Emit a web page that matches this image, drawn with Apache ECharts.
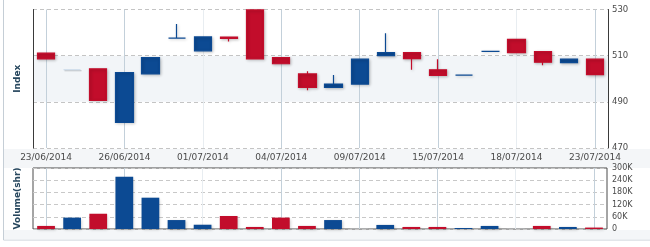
<!DOCTYPE html>
<html><head><meta charset="utf-8">
<script src="https://cdn.jsdelivr.net/npm/echarts@6/dist/echarts.min.js"></script>
<style>html,body{margin:0;padding:0;background:#fff}#c{width:650px;height:247px}</style>
</head><body><div id="c"></div>
<script>
const dates = ['23/06/2014','24/06/2014','25/06/2014','26/06/2014','27/06/2014','30/06/2014','01/07/2014','02/07/2014','03/07/2014','04/07/2014','07/07/2014','08/07/2014','09/07/2014','10/07/2014','14/07/2014','15/07/2014','16/07/2014','17/07/2014','18/07/2014','21/07/2014','22/07/2014','23/07/2014'];
const opens  = [511.1,503.9,504.3,481.1,502.1,517.6,512.1,518.0,529.8,509.2,502.1,496.2,497.7,510.0,511.3,503.9,501.6,511.9,517.1,511.8,507.0,508.5];
const closes = [508.6,503.9,490.6,502.7,509.2,517.6,518.1,517.5,508.6,506.5,496.2,497.7,508.5,511.3,508.7,501.4,501.6,511.9,511.3,507.2,508.5,501.8];
const highs  = [511.1,503.9,504.3,502.7,509.2,523.7,518.1,518.0,529.8,509.2,503.3,501.6,508.5,519.7,511.3,508.5,501.6,511.9,517.1,511.8,508.5,508.5];
const lows   = [508.6,503.9,490.6,481.1,502.1,517.6,512.1,516.1,508.6,506.5,495.0,496.2,497.7,510.0,503.9,501.4,501.6,511.9,511.3,505.9,507.0,501.8];
const volumes = [15000,56000,75000,257000,154000,44000,21000,64000,10000,56000,15000,44000,1000,20000,10000,10000,5000,15000,1000,15000,10000,7000];
const volDir = ['d','u','d','u','u','u','u','d','d','d','d','u','n','u','d','d','u','u','n','d','u','d'];
const noTradeDays = [1];
const indexTicks = {min:470, max:530, interval:20};
const volTicks = {min:0, max:300000, interval:60000};

const RED = '#c20d2b', BLUE = '#0c4a93', PALE = '#c8d8e8', PALEV = '#dde1e6';
const GRIDV = ['#c3d0da','#c3d0da','#e8edf1','#c3d0da'];
const shadow = {shadowBlur:3, shadowColor:'rgba(0,0,0,0.22)', shadowOffsetX:1, shadowOffsetY:1};
const candleData = dates.map((d,i) => {
  const item = {value:[opens[i], closes[i], lows[i], highs[i]]};
  if (noTradeDays.includes(i)) item.itemStyle = {color:PALE, color0:PALE, borderColor:PALE, borderColor0:PALE, borderColorDoji:PALE, shadowBlur:0};
  else if (opens[i] === closes[i]) item.itemStyle = {borderColorDoji:BLUE};
  return item;
});
const volData = volumes.map((v,i) => ({value:v, itemStyle:{color: volDir[i]==='u'?BLUE:(volDir[i]==='d'?RED:PALEV)}}));

const font = 'DejaVu Sans';
const chart = echarts.init(document.getElementById('c'), null, {renderer:'canvas'});
chart.setOption({
  animation:false,
  backgroundColor:'#ffffff',
  graphic:[
    {type:'rect', shape:{x:3.5,y:-2,width:700,height:242}, style:{fill:'none', stroke:'#c5ced6', lineWidth:1}, z:-10},
    {type:'rect', shape:{x:4,y:149,width:700,height:19}, style:{fill:'#f4f6f8'}, z:-9},
    {type:'rect', shape:{x:4,y:230,width:700,height:9.5}, style:{fill:'#f4f6f8'}, z:-9}
  ],
  grid:[
    {left:33, right:42, top:9.5, height:138.5},
    {left:33, right:43, top:168, height:61, show:true, borderColor:'#4a4a4a', borderWidth:1, backgroundColor:'#ffffff'}
  ],
  xAxis:[
    {type:'category', gridIndex:0, data:dates, boundaryGap:true,
     axisLine:{show:false}, axisTick:{show:false},
     axisLabel:{interval:2, color:'#4a4a4a', fontFamily:font, fontSize:9, margin:5},
     splitLine:{show:true, interval:2, alignWithLabel:true, lineStyle:{color:GRIDV, width:1}}},
    {type:'category', gridIndex:1, data:dates, boundaryGap:true,
     axisLine:{show:false}, axisTick:{show:false}, axisLabel:{show:false},
     splitLine:{show:true, interval:2, alignWithLabel:true, lineStyle:{color:GRIDV, width:1}}}
  ],
  yAxis:[
    {type:'value', gridIndex:0, position:'left', min:indexTicks.min, max:indexTicks.max, interval:indexTicks.interval,
     name:'Index', nameLocation:'middle', nameRotate:90, nameGap:11,
     nameTextStyle:{color:'#27475e', fontFamily:font, fontSize:9, fontWeight:'bold'},
     axisLine:{show:true, lineStyle:{color:'#3a3a3a'}}, axisTick:{show:false}, axisLabel:{show:false},
     splitLine:{show:true, lineStyle:{type:[4,3], color:'#c4c4c4'}},
     splitArea:{show:true, areaStyle:{color:['rgba(255,255,255,0)','#f2f5f8']}}},
    {type:'value', gridIndex:0, position:'right', min:indexTicks.min, max:indexTicks.max, interval:indexTicks.interval,
     axisLine:{show:true, lineStyle:{color:'#3a3a3a'}}, axisTick:{show:false},
     axisLabel:{color:'#4a4a4a', fontFamily:font, fontSize:8.5, margin:4},
     splitLine:{show:false}},
    {type:'value', gridIndex:1, position:'left', min:volTicks.min, max:volTicks.max, interval:volTicks.interval,
     name:'Volume(shr)', nameLocation:'middle', nameRotate:90, nameGap:11,
     nameTextStyle:{color:'#27475e', fontFamily:font, fontSize:9, fontWeight:'bold'},
     axisLine:{show:false}, axisTick:{show:false}, axisLabel:{show:false},
     splitLine:{show:true, lineStyle:{type:[4,3], color:'#c8c8c8'}}},
    {type:'value', gridIndex:1, position:'right', min:volTicks.min, max:volTicks.max, interval:volTicks.interval,
     axisLine:{show:false}, axisTick:{show:false},
     axisLabel:{color:'#4a4a4a', fontFamily:font, fontSize:8, margin:5,
       formatter: v => v === 0 ? '0' : (v/1000) + 'K'},
     splitLine:{show:false}}
  ],
  series:[
    {type:'candlestick', xAxisIndex:0, yAxisIndex:1, data:candleData, barWidth:'68%',
     itemStyle:Object.assign({color:BLUE, color0:RED, borderColor:BLUE, borderColor0:RED, borderWidth:1.2}, shadow)},
    {type:'bar', xAxisIndex:1, yAxisIndex:3, data:volData, barWidth:'68%',
     itemStyle:Object.assign({}, shadow)}
  ]
});
</script>
</body></html>
